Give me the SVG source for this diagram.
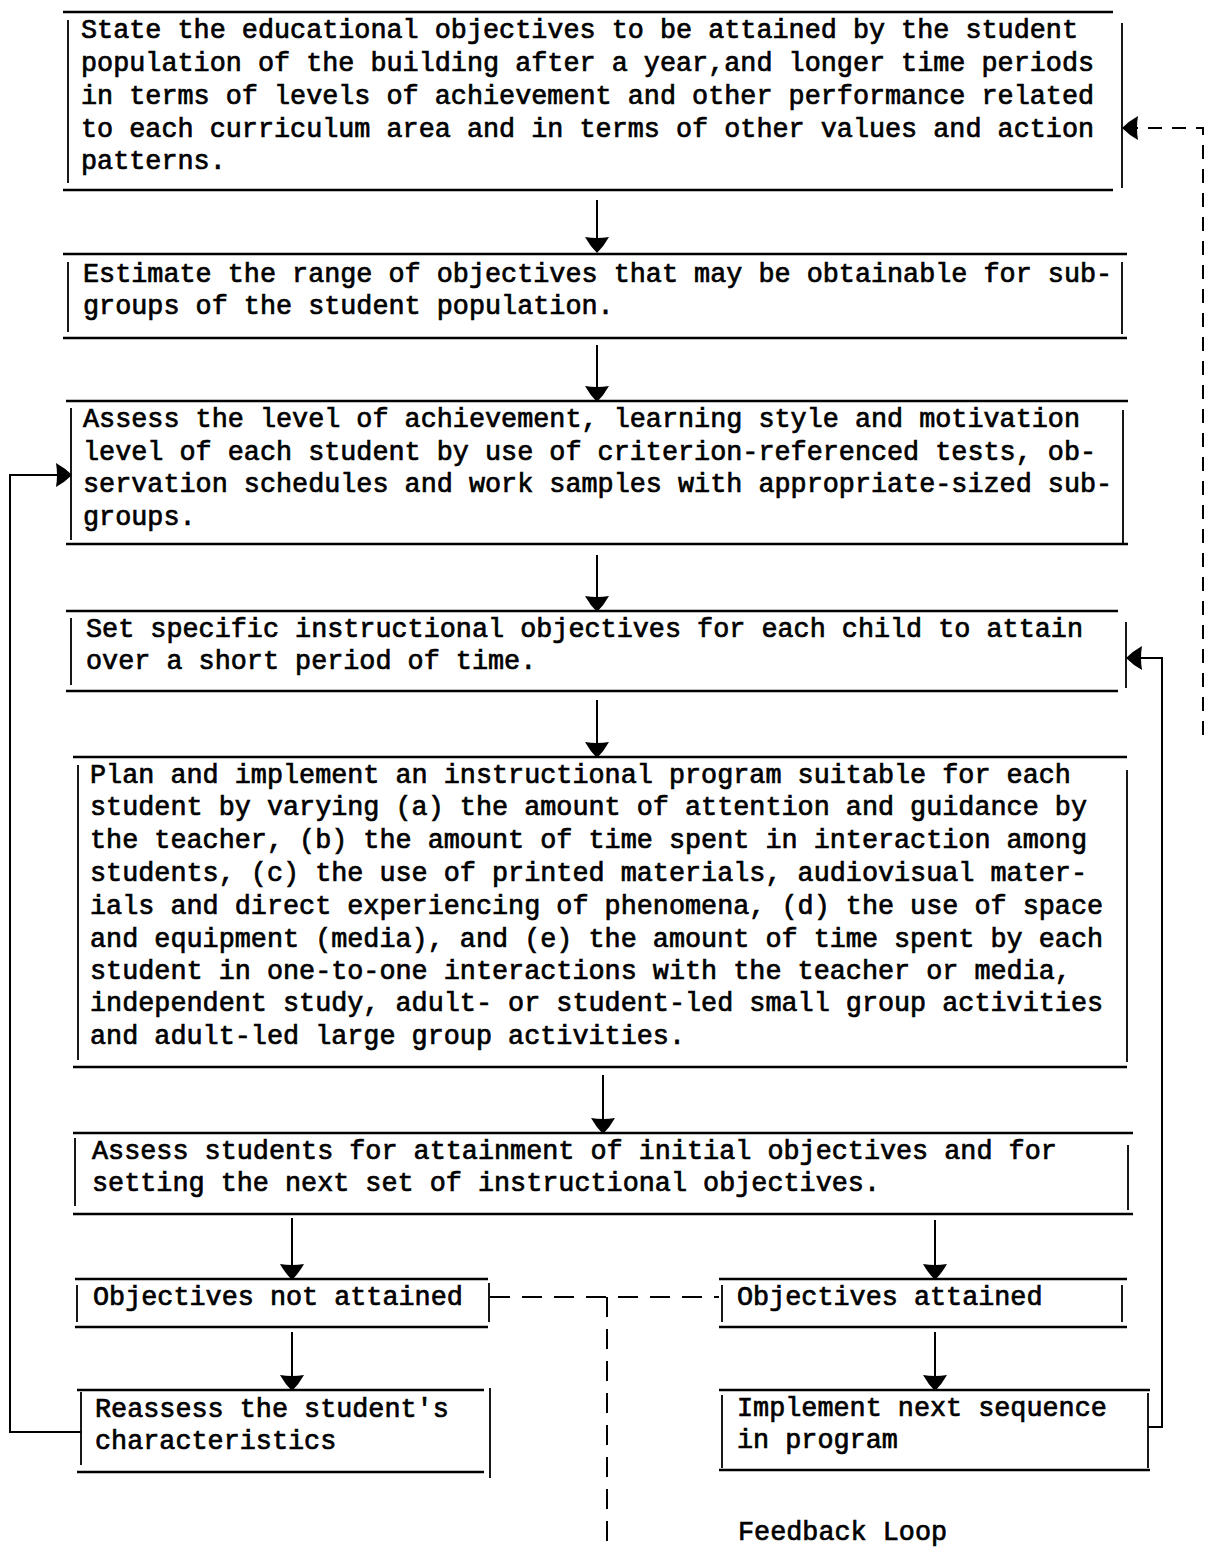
<svg xmlns="http://www.w3.org/2000/svg" width="1207" height="1549" viewBox="0 0 1207 1549">
<defs>
<style>
.bg{fill:#fff}
.h{stroke:#000;stroke-width:2.6;fill:none}
.v{stroke:#000;stroke-width:1.8;fill:none}
.c{stroke:#000;stroke-width:2;fill:none}
.d{stroke:#000;stroke-width:2;fill:none;stroke-dasharray:14 10}
.d2{stroke:#000;stroke-width:2;fill:none;stroke-dasharray:20 12}
text{font-family:"Liberation Mono","Courier New",monospace;font-size:26.8px;fill:#000;stroke:#000;stroke-width:0.7px}
</style>
<marker id="ah" viewBox="0 0 16 26" refX="15" refY="13" markerWidth="16" markerHeight="26" markerUnits="userSpaceOnUse" orient="auto">
<path d="M0,1 Q9,6 16,13 Q9,20 0,25 Q2,13 0,1 Z" fill="#000"/>
</marker>
</defs>
<rect class="bg" x="0" y="0" width="1207" height="1549"/>

<g id="connectors">
<path class="c" d="M597,200 V252" marker-end="url(#ah)"/>
<path class="c" d="M597,345 V401" marker-end="url(#ah)"/>
<path class="c" d="M597,555 V611" marker-end="url(#ah)"/>
<path class="c" d="M597,700 V757" marker-end="url(#ah)"/>
<path class="c" d="M603,1075 V1133" marker-end="url(#ah)"/>
<path class="c" d="M292,1218 V1279" marker-end="url(#ah)"/>
<path class="c" d="M935,1220 V1279" marker-end="url(#ah)"/>
<path class="c" d="M292,1332 V1390" marker-end="url(#ah)"/>
<path class="c" d="M935,1332 V1390" marker-end="url(#ah)"/>
<path class="c" d="M81,1432 H10 V475 H71" marker-end="url(#ah)"/>
<path class="c" d="M1148,1427 H1162 V658 H1127" marker-end="url(#ah)"/>
<path class="d" d="M1203,735 V128 H1123" marker-end="url(#ah)"/>
<path class="d2" d="M490,1297 H719"/>
<path class="d2" d="M607,1297 V1549"/>
</g>

<g id="n1">
<path class="h" d="M63,12 H1113 M63,190 H1113"/>
<path class="v" d="M68,20 V183 M1122,23 V188"/>
<text x="81" y="38">State the educational objectives to be attained by the student</text>
<text x="81" y="71">population of the building after a year,and longer time periods</text>
<text x="81" y="104">in terms of levels of achievement and other performance related</text>
<text x="81" y="137">to each curriculum area and in terms of other values and action</text>
<text x="81" y="169">patterns.</text>
</g>

<g id="n2">
<path class="h" d="M63,254 H1127 M63,338 H1127"/>
<path class="v" d="M68,262 V332 M1122,262 V334"/>
<text x="83" y="282">Estimate the range of objectives that may be obtainable for sub-</text>
<text x="83" y="314">groups of the student population.</text>
</g>

<g id="n3">
<path class="h" d="M66,401 H1128 M66,544 H1128"/>
<path class="v" d="M71,408 V540 M1123,410 V544"/>
<text x="83" y="427">Assess the level of achievement, learning style and motivation</text>
<text x="83" y="460">level of each student by use of criterion-referenced tests, ob-</text>
<text x="83" y="492">servation schedules and work samples with appropriate-sized sub-</text>
<text x="83" y="525">groups.</text>
</g>

<g id="n4">
<path class="h" d="M66,611 H1118 M66,691 H1118"/>
<path class="v" d="M71,618 V685 M1126,622 V688"/>
<text x="86" y="637">Set specific instructional objectives for each child to attain</text>
<text x="86" y="669">over a short period of time.</text>
</g>

<g id="n5">
<path class="h" d="M73,757 H1127 M73,1067 H1127"/>
<path class="v" d="M78,765 V1060 M1127,770 V1062"/>
<text x="90" y="783">Plan and implement an instructional program suitable for each</text>
<text x="90" y="815">student by varying (a) the amount of attention and guidance by</text>
<text x="90" y="848">the teacher, (b) the amount of time spent in interaction among</text>
<text x="90" y="881">students, (c) the use of printed materials, audiovisual mater-</text>
<text x="90" y="914">ials and direct experiencing of phenomena, (d) the use of space</text>
<text x="90" y="947">and equipment (media), and (e) the amount of time spent by each</text>
<text x="90" y="979">student in one-to-one interactions with the teacher or media,</text>
<text x="90" y="1011">independent study, adult- or student-led small group activities</text>
<text x="90" y="1044">and adult-led large group activities.</text>
</g>

<g id="n6">
<path class="h" d="M73,1133 H1133 M73,1214 H1133"/>
<path class="v" d="M75,1138 V1206 M1128,1145 V1210"/>
<text x="92" y="1159">Assess students for attainment of initial objectives and for</text>
<text x="92" y="1191">setting the next set of instructional objectives.</text>
</g>

<g id="n7">
<path class="h" d="M75,1279 H488 M75,1327 H488"/>
<path class="v" d="M77,1285 V1322 M489,1283 V1322"/>
<text x="93" y="1305">Objectives not attained</text>
</g>

<g id="n8">
<path class="h" d="M719,1279 H1127 M719,1327 H1127"/>
<path class="v" d="M722,1285 V1322 M1122,1285 V1322"/>
<text x="737" y="1305">Objectives attained</text>
</g>

<g id="n9">
<path class="h" d="M77,1390 H484 M77,1472 H484"/>
<path class="v" d="M81,1392 V1465 M490,1388 V1478"/>
<text x="95" y="1417">Reassess the student's</text>
<text x="95" y="1449">characteristics</text>
</g>

<g id="n10">
<path class="h" d="M719,1390 H1150 M719,1470 H1150"/>
<path class="v" d="M722,1395 V1468 M1148,1393 V1468"/>
<text x="737" y="1416">Implement next sequence</text>
<text x="737" y="1448">in program</text>
</g>

<g id="label">
<text x="738" y="1540">Feedback Loop</text>
</g>
</svg>
